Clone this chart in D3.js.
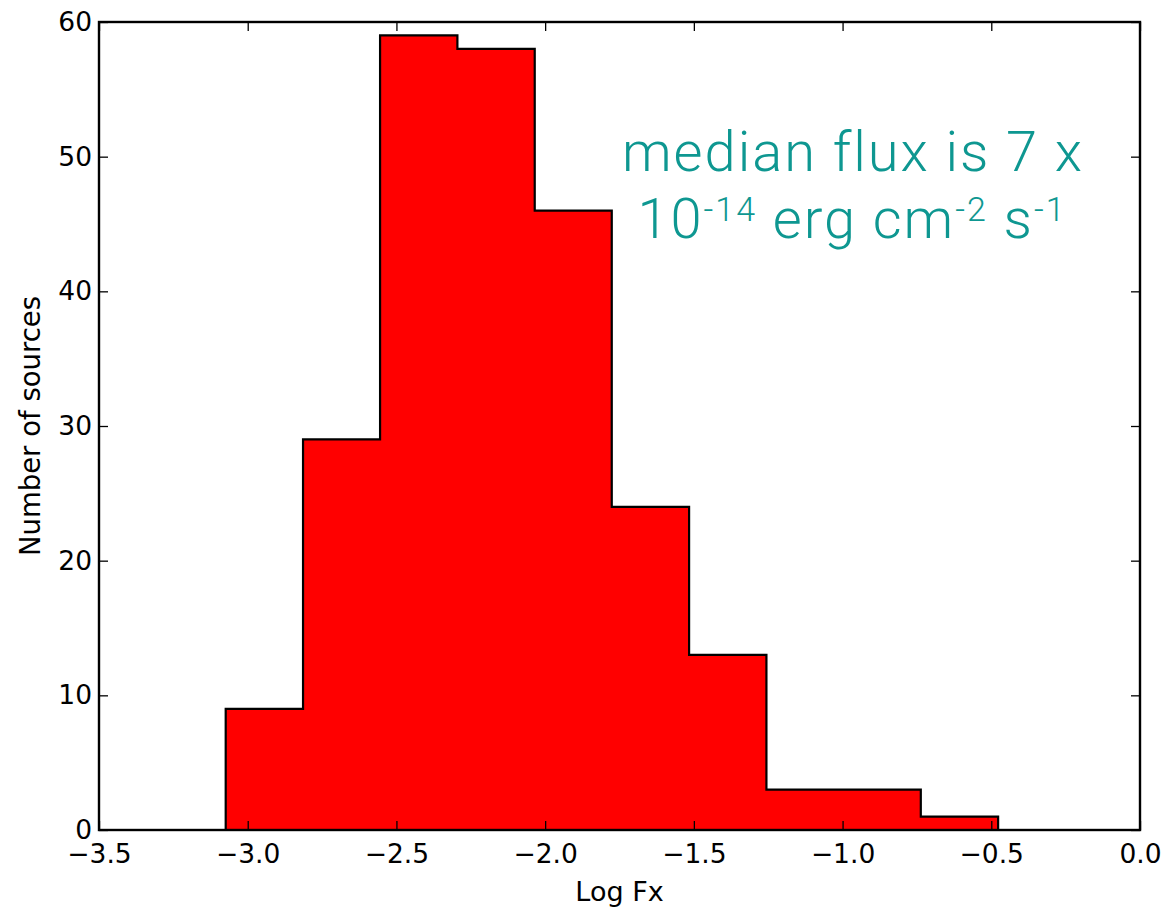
<!DOCTYPE html>
<html lang="en">
	<head>
		<meta charset="utf-8">
		<title>Log Fx histogram</title>
		<script src="https://cdn.jsdelivr.net/npm/d3@7"></script>
		<style>
			body { margin: 0; background: #fff; }
		</style>
	</head>
	<body>
		<script type="text/javascript">
			// Data: histogram bin edges (Log Fx) and counts per bin
			var binEdges = [-3.074, -2.814, -2.555, -2.295, -2.035, -1.776, -1.516, -1.256, -0.997, -0.737, -0.477];
			var counts = [9, 29, 59, 58, 46, 24, 13, 3, 3, 1];

			var xTicks = [-3.5, -3.0, -2.5, -2.0, -1.5, -1.0, -0.5, 0.0];
			var yTicks = [0, 10, 20, 30, 40, 50, 60];

			// Plot box
			var w = 1170, h = 909;
			var pLeft = 99, pRight = 1140, pTop = 22, pBottom = 830;

			var svg = d3.select("body")
				.append("svg")
				.attr("width", w)
				.attr("height", h)
				.style("font-family", "'DejaVu Sans', sans-serif");

			var x = d3.scaleLinear().domain([-3.5, 0]).range([pLeft, pRight]);
			var y = d3.scaleLinear().domain([0, 60]).range([pBottom, pTop]);

			// stepfilled outline
			var pts = [[binEdges[0], 0]];
			counts.forEach(function(c, i) {
				pts.push([binEdges[i], c]);
				pts.push([binEdges[i + 1], c]);
			});
			pts.push([binEdges[binEdges.length - 1], 0]);

			var line = d3.line()
				.x(function(d) { return x(d[0]); })
				.y(function(d) { return y(d[1]); });

			svg.append("path")
				.attr("d", line(pts) + "Z")
				.attr("fill", "#ff0000")
				.attr("stroke", "#000")
				.attr("stroke-width", 2.2)
				.attr("stroke-linejoin", "miter");

			// axes (ticks pointing inward)
			var fmtX = d3.format(".1f");
			var gB = svg.append("g").attr("transform", "translate(0," + pBottom + ")")
				.call(d3.axisBottom(x).tickValues(xTicks).tickFormat(fmtX).tickSize(-9).tickSizeOuter(0).tickPadding(14));
			var gT = svg.append("g").attr("transform", "translate(0," + pTop + ")")
				.call(d3.axisTop(x).tickValues(xTicks).tickFormat("").tickSize(-9).tickSizeOuter(0));
			var gL = svg.append("g").attr("transform", "translate(" + pLeft + ",0)")
				.call(d3.axisLeft(y).tickValues(yTicks).tickFormat(d3.format("d")).tickSize(-9).tickSizeOuter(0).tickPadding(7));
			var gR = svg.append("g").attr("transform", "translate(" + pRight + ",0)")
				.call(d3.axisRight(y).tickValues(yTicks).tickFormat("").tickSize(-9).tickSizeOuter(0));

			[gB, gT, gL, gR].forEach(function(g) {
				g.select(".domain").remove();
				g.selectAll(".tick line").attr("stroke", "#000").attr("stroke-width", 1.3);
				g.selectAll(".tick text")
					.attr("fill", "#000")
					.style("font-family", "'DejaVu Sans', sans-serif")
					.style("font-size", "26.5px");
			});

			// frame
			svg.append("rect")
				.attr("x", pLeft)
				.attr("y", pTop)
				.attr("width", pRight - pLeft)
				.attr("height", pBottom - pTop)
				.attr("fill", "none")
				.attr("stroke", "#000")
				.attr("stroke-width", 2.4);

			// axis labels
			svg.append("text")
				.attr("x", (pLeft + pRight) / 2)
				.attr("y", 901)
				.attr("text-anchor", "middle")
				.style("font-size", "27px")
				.text("Log Fx");

			svg.append("text")
				.attr("transform", "translate(40," + ((pTop + pBottom) / 2) + ") rotate(-90)")
				.attr("text-anchor", "middle")
				.style("font-size", "27.5px")
				.text("Number of sources");

			// annotation
			var teal = "#0e9791";
			var annFont = "Roboto, 'Open Sans', sans-serif";

			svg.append("text")
				.attr("x", 853)
				.attr("y", 171)
				.attr("text-anchor", "middle")
				.attr("fill", teal)
				.style("font-family", annFont)
				.style("font-weight", 300)
				.style("font-size", "56px")
				.style("letter-spacing", "2px")
				.text("median flux is 7 x");

			var l2 = svg.append("text")
				.attr("x", 852)
				.attr("y", 238)
				.attr("text-anchor", "middle")
				.attr("fill", teal)
				.style("font-family", annFont)
				.style("font-weight", 300)
				.style("font-size", "56px")
				.style("letter-spacing", "2px");
			l2.append("tspan").text("10");
			l2.append("tspan").attr("dy", -17).style("font-size", "34px").text("-14");
			l2.append("tspan").attr("dy", 17).text(" erg cm");
			l2.append("tspan").attr("dy", -17).style("font-size", "34px").text("-2");
			l2.append("tspan").attr("dy", 17).text(" s");
			l2.append("tspan").attr("dy", -17).style("font-size", "34px").text("-1");
		</script>
	</body>
</html>
